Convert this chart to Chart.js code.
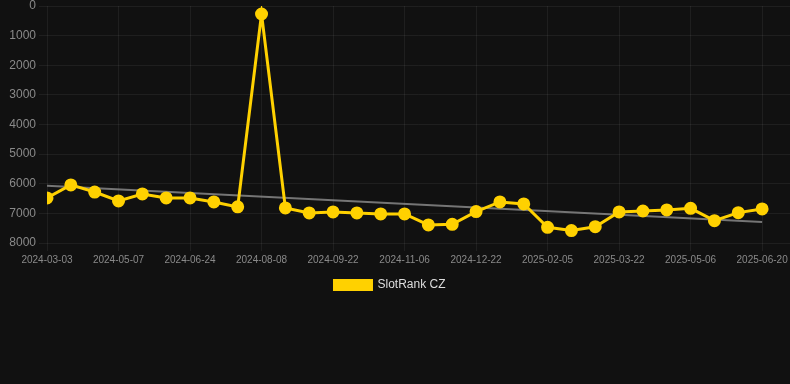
<!DOCTYPE html>
<html>
<head>
<meta charset="utf-8">
<script src="https://cdn.jsdelivr.net/npm/chart.js@4/dist/chart.umd.min.js"></script>
<style>
  html, body { margin: 0; padding: 0; background: #111111; }
  #wrap { width: 790px; height: 301px; position: relative; }
</style>
</head>
<body>
<div id="wrap"><canvas id="chart"></canvas></div>
<script>
// tick labels / categories (one point every ~15 days)
const dates = [
  '2024-03-03', '2024-03-25', '2024-04-16', '2024-05-07', '2024-05-23', '2024-06-08',
  '2024-06-24', '2024-07-09', '2024-07-24', '2024-08-08', '2024-08-23', '2024-09-07',
  '2024-09-22', '2024-10-07', '2024-10-22', '2024-11-06', '2024-11-21', '2024-12-06',
  '2024-12-22', '2025-01-06', '2025-01-21', '2025-02-05', '2025-02-20', '2025-03-07',
  '2025-03-22', '2025-04-06', '2025-04-21', '2025-05-06', '2025-05-21', '2025-06-05',
  '2025-06-20'
];
// rank values (lower is better, axis reversed)
const ranks = [
  6480, 6040, 6280, 6580, 6345, 6480, 6480, 6615, 6780, 270,
  6815, 6985, 6950, 6985, 7020, 7020, 7390, 7370, 6940, 6615,
  6680, 7470, 7580, 7450, 6950, 6920, 6885, 6830, 7245, 6975,
  6850
];
// trend line end values
const trendStart = 6065;
const trendEnd = 7290;
const yTicks = [0, 1000, 2000, 3000, 4000, 5000, 6000, 7000, 8000];

const gridColor = 'rgba(255,255,255,0.06)';
const font = { family: 'Arial, "Liberation Sans", sans-serif' };

// nudge the legend a bit left, like the original
const legendShift = {
  id: 'legendShift',
  afterLayout(chart) {
    if (chart.legend) { chart.legend.left -= 5; chart.legend.right -= 5; }
  }
};

new Chart(document.getElementById('chart'), {
  type: 'line',
  data: {
    datasets: [{
      label: 'SlotRank CZ',
      data: ranks.map((v, i) => ({ x: i, y: v })),
      borderColor: '#ffd100',
      backgroundColor: '#ffd100',
      borderWidth: 3,
      pointRadius: 5,
      pointHoverRadius: 5,
      tension: 0
    }, {
      label: 'trend',
      data: [{ x: 0, y: trendStart }, { x: dates.length - 1, y: trendEnd }],
      borderColor: 'rgba(160,160,160,0.7)',
      borderWidth: 2,
      pointRadius: 0
    }]
  },
  plugins: [legendShift],
  options: {
    responsive: true,
    maintainAspectRatio: false,
    animation: false,
    layout: { padding: 0, autoPadding: false },
    scales: {
      x: {
        type: 'linear',
        min: 0,
        max: 31.17,
        grid: { color: gridColor },
        border: { display: false },
        afterFit: s => { s.paddingRight = 0; },
        ticks: {
          stepSize: 3,
          includeBounds: false,
          autoSkip: false,
          maxRotation: 0,
          color: '#8a8a8a',
          font: { ...font, size: 10 },
          callback: v => (Number.isInteger(v) && dates[v]) ? dates[v] : ''
        }
      },
      y: {
        reverse: true,
        min: yTicks[0],
        max: yTicks[yTicks.length - 1],
        grid: { color: gridColor },
        border: { display: false },
        afterFit: s => { s.width = 47; s.paddingTop = 6; },
        ticks: {
          stepSize: 1000,
          color: '#8a8a8a',
          font: { ...font, size: 12 },
          callback: v => String(v)
        }
      }
    },
    plugins: {
      legend: {
        position: 'bottom',
        labels: {
          color: '#dddddd',
          font: { ...font, size: 12 },
          boxWidth: 37,
          boxHeight: 9,
          filter: item => item.text !== 'trend'
        }
      },
      tooltip: { enabled: false }
    }
  }
});
</script>
</body>
</html>
